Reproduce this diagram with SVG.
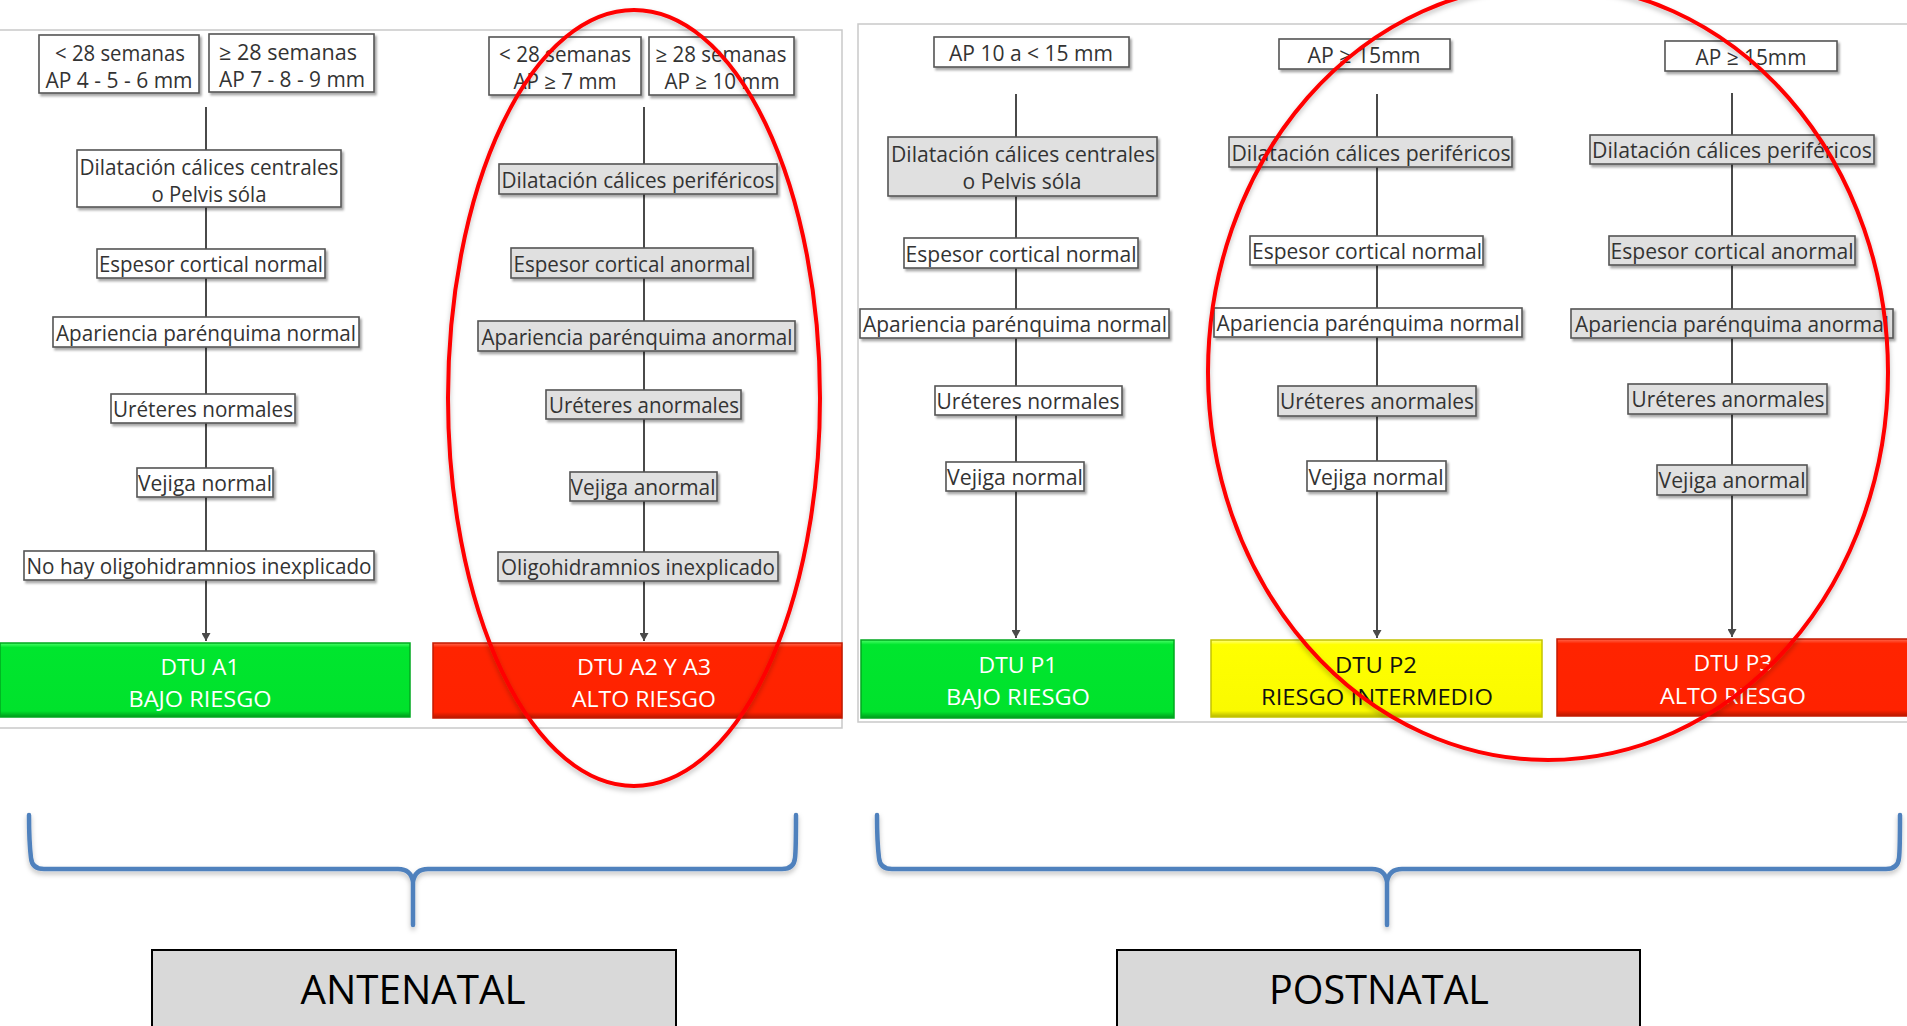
<svg xmlns="http://www.w3.org/2000/svg" width="1907" height="1026" viewBox="0 0 1907 1026">
  <defs>
    <style>
      .frame { fill: none; stroke: #c9c9c9; stroke-width: 1.5; }
      .box { fill: #ffffff; stroke: #555555; stroke-width: 1.6; filter: url(#shadow); }
      .box.grey { fill: #e0e0e0; }
      .t { font-family: "Open Sans", "Liberation Sans", sans-serif; font-size: 22px; fill: #333333; text-anchor: middle; }
      .h { font-size: 21px; }
      .res { font-family: "Open Sans", "Liberation Sans", sans-serif; font-size: 21px; fill: #ffffff; text-anchor: middle; }
      .res.dark { fill: #111111; }
      .link { stroke: #4a4a4a; stroke-width: 2; fill: none; }
      .ring { fill: none; stroke: #ff0000; stroke-width: 4; filter: url(#softshadow); }
      .brace { fill: none; stroke: #4f81bd; stroke-width: 4.5; stroke-linejoin: round; stroke-linecap: round; filter: url(#softshadow); }
      .label { fill: #d9d9d9; stroke: #000000; stroke-width: 2; }
      .lt { font-family: "Open Sans", "Liberation Sans", sans-serif; font-size: 40px; fill: #000000; text-anchor: middle; }
    </style>
    <filter id="shadow" x="-10%" y="-30%" width="120%" height="170%">
      <feDropShadow dx="2" dy="2.5" stdDeviation="1.2" flood-color="#000000" flood-opacity="0.35"/>
    </filter>
    <filter id="softshadow" x="-10%" y="-10%" width="120%" height="130%">
      <feDropShadow dx="0" dy="3" stdDeviation="2.5" flood-color="#000000" flood-opacity="0.25"/>
    </filter>
    <marker id="arrow" viewBox="0 0 8 9" refX="8" refY="4.5" markerWidth="8" markerHeight="9" markerUnits="userSpaceOnUse" orient="auto">
      <path d="M0,0 L8,4.5 L0,9 Z" fill="#4a4a4a"/>
    </marker>
    <linearGradient id="gGreen" x1="0" y1="0" x2="0" y2="1">
      <stop offset="0" stop-color="#4dff6a"/>
      <stop offset="0.06" stop-color="#00e62e"/>
      <stop offset="0.92" stop-color="#00e22c"/>
      <stop offset="1" stop-color="#009a1c"/>
    </linearGradient>
    <linearGradient id="gRed" x1="0" y1="0" x2="0" y2="1">
      <stop offset="0" stop-color="#ff6a50"/>
      <stop offset="0.06" stop-color="#ff2400"/>
      <stop offset="0.92" stop-color="#ff2200"/>
      <stop offset="1" stop-color="#b81800"/>
    </linearGradient>
    <linearGradient id="gYellow" x1="0" y1="0" x2="0" y2="1">
      <stop offset="0" stop-color="#ffff80"/>
      <stop offset="0.06" stop-color="#ffff00"/>
      <stop offset="0.92" stop-color="#fafa00"/>
      <stop offset="1" stop-color="#b5b500"/>
    </linearGradient>
  </defs>

  <rect width="1907" height="1026" fill="#ffffff"/>

  <!-- panel frames -->
  <path class="frame" d="M0,30 H842 V728 H0"/>
  <path class="frame" d="M1907,24 H858 V722 H1907"/>

  <!-- vertical flow lines -->
  <g id="connectors">
    <line class="link" x1="206" y1="107" x2="206" y2="641" marker-end="url(#arrow)"/>
    <line class="link" x1="644" y1="107" x2="644" y2="641" marker-end="url(#arrow)"/>
    <line class="link" x1="1016" y1="94" x2="1016" y2="638" marker-end="url(#arrow)"/>
    <line class="link" x1="1377" y1="94" x2="1377" y2="638" marker-end="url(#arrow)"/>
    <line class="link" x1="1732" y1="93" x2="1732" y2="637" marker-end="url(#arrow)"/>
  </g>

  <!-- ===== Antenatal, low risk column ===== -->
  <g id="a1-lt28">
    <rect class="box" x="39" y="35" width="160" height="58"/>
    <text class="t h" x="120" y="61" textLength="130" lengthAdjust="spacingAndGlyphs">&lt; 28 semanas</text>
    <text class="t h" x="119" y="88" textLength="147" lengthAdjust="spacingAndGlyphs">AP 4 - 5 - 6 mm</text>
  </g>
  <g id="a1-ge28">
    <rect class="box" x="209" y="34" width="165" height="58"/>
    <text class="t h" x="288" y="60" textLength="138" lengthAdjust="spacingAndGlyphs">≥ 28 semanas</text>
    <text class="t h" x="292" y="87" textLength="146" lengthAdjust="spacingAndGlyphs">AP 7 - 8 - 9 mm</text>
  </g>
  <g id="a1-calices">
    <rect class="box" x="77" y="150" width="264" height="57"/>
    <text class="t" x="209" y="175" textLength="259" lengthAdjust="spacingAndGlyphs">Dilatación cálices centrales</text>
    <text class="t" x="209" y="202" textLength="115" lengthAdjust="spacingAndGlyphs">o Pelvis sóla</text>
  </g>
  <g id="a1-cortical">
    <rect class="box" x="97" y="249" width="228" height="29"/>
    <text class="t" x="211" y="272" textLength="224" lengthAdjust="spacingAndGlyphs">Espesor cortical normal</text>
  </g>
  <g id="a1-parenquima">
    <rect class="box" x="53" y="317" width="306" height="30"/>
    <text class="t" x="206" y="341" textLength="300" lengthAdjust="spacingAndGlyphs">Apariencia parénquima normal</text>
  </g>
  <g id="a1-ureteres">
    <rect class="box" x="111" y="394" width="184" height="29"/>
    <text class="t" x="203" y="417" textLength="180" lengthAdjust="spacingAndGlyphs">Uréteres normales</text>
  </g>
  <g id="a1-vejiga">
    <rect class="box" x="137" y="468" width="136" height="29"/>
    <text class="t" x="205" y="491" textLength="134" lengthAdjust="spacingAndGlyphs">Vejiga normal</text>
  </g>
  <g id="a1-oligo">
    <rect class="box" x="24" y="551" width="350" height="29"/>
    <text class="t" x="199" y="574" textLength="345" lengthAdjust="spacingAndGlyphs">No hay oligohidramnios inexplicado</text>
  </g>
  <g id="a1-result">
    <rect x="0" y="643" width="410" height="74" fill="url(#gGreen)" stroke="#00a81f" stroke-width="1.5"/>
    <text class="res" x="200" y="675" textLength="79" lengthAdjust="spacingAndGlyphs">DTU A1</text>
    <text class="res" x="200" y="707" textLength="143" lengthAdjust="spacingAndGlyphs">BAJO RIESGO</text>
  </g>

  <!-- ===== Antenatal, high risk column ===== -->
  <g id="a2-lt28">
    <rect class="box" x="489" y="37" width="152" height="58"/>
    <text class="t h" x="565" y="62" textLength="132" lengthAdjust="spacingAndGlyphs">&lt; 28 semanas</text>
    <text class="t h" x="565" y="89" textLength="103" lengthAdjust="spacingAndGlyphs">AP ≥ 7 mm</text>
  </g>
  <g id="a2-ge28">
    <rect class="box" x="649" y="37" width="145" height="58"/>
    <text class="t h" x="721" y="62" textLength="131" lengthAdjust="spacingAndGlyphs">≥ 28 semanas</text>
    <text class="t h" x="722" y="89" textLength="115" lengthAdjust="spacingAndGlyphs">AP ≥ 10 mm</text>
  </g>
  <g id="a2-calices">
    <rect class="box grey" x="499" y="164" width="278" height="30"/>
    <text class="t" x="638" y="188" textLength="273" lengthAdjust="spacingAndGlyphs">Dilatación cálices periféricos</text>
  </g>
  <g id="a2-cortical">
    <rect class="box grey" x="511" y="248" width="242" height="30"/>
    <text class="t" x="632" y="272" textLength="237" lengthAdjust="spacingAndGlyphs">Espesor cortical anormal</text>
  </g>
  <g id="a2-parenquima">
    <rect class="box grey" x="478" y="321" width="317" height="30"/>
    <text class="t" x="637" y="345" textLength="311" lengthAdjust="spacingAndGlyphs">Apariencia parénquima anormal</text>
  </g>
  <g id="a2-ureteres">
    <rect class="box grey" x="546" y="390" width="195" height="29"/>
    <text class="t" x="644" y="413" textLength="190" lengthAdjust="spacingAndGlyphs">Uréteres anormales</text>
  </g>
  <g id="a2-vejiga">
    <rect class="box grey" x="570" y="472" width="147" height="29"/>
    <text class="t" x="643" y="495" textLength="145" lengthAdjust="spacingAndGlyphs">Vejiga anormal</text>
  </g>
  <g id="a2-oligo">
    <rect class="box grey" x="498" y="552" width="280" height="29"/>
    <text class="t" x="638" y="575" textLength="274" lengthAdjust="spacingAndGlyphs">Oligohidramnios inexplicado</text>
  </g>
  <g id="a2-result">
    <rect x="433" y="643" width="409" height="75" fill="url(#gRed)" stroke="#c41a00" stroke-width="1.5"/>
    <text class="res" x="644" y="675" textLength="134" lengthAdjust="spacingAndGlyphs">DTU A2 Y A3</text>
    <text class="res" x="644" y="707" textLength="144" lengthAdjust="spacingAndGlyphs">ALTO RIESGO</text>
  </g>

  <!-- ===== Postnatal, P1 column ===== -->
  <g id="p1-ap">
    <rect class="box" x="934" y="37" width="195" height="30"/>
    <text class="t h" x="1031" y="61" textLength="164" lengthAdjust="spacingAndGlyphs">AP 10 a &lt; 15 mm</text>
  </g>
  <g id="p1-calices">
    <rect class="box grey" x="888" y="137" width="269" height="59"/>
    <text class="t" x="1023" y="162" textLength="264" lengthAdjust="spacingAndGlyphs">Dilatación cálices centrales</text>
    <text class="t" x="1022" y="189" textLength="119" lengthAdjust="spacingAndGlyphs">o Pelvis sóla</text>
  </g>
  <g id="p1-cortical">
    <rect class="box" x="904" y="238" width="234" height="30"/>
    <text class="t" x="1021" y="262" textLength="231" lengthAdjust="spacingAndGlyphs">Espesor cortical normal</text>
  </g>
  <g id="p1-parenquima">
    <rect class="box" x="860" y="309" width="309" height="29"/>
    <text class="t" x="1015" y="332" textLength="304" lengthAdjust="spacingAndGlyphs">Apariencia parénquima normal</text>
  </g>
  <g id="p1-ureteres">
    <rect class="box" x="935" y="386" width="187" height="29"/>
    <text class="t" x="1028" y="409" textLength="183" lengthAdjust="spacingAndGlyphs">Uréteres normales</text>
  </g>
  <g id="p1-vejiga">
    <rect class="box" x="946" y="462" width="138" height="29"/>
    <text class="t" x="1015" y="485" textLength="136" lengthAdjust="spacingAndGlyphs">Vejiga normal</text>
  </g>
  <g id="p1-result">
    <rect x="861" y="640" width="313" height="78" fill="url(#gGreen)" stroke="#00a81f" stroke-width="1.5"/>
    <text class="res" x="1018" y="673" textLength="79" lengthAdjust="spacingAndGlyphs">DTU P1</text>
    <text class="res" x="1018" y="705" textLength="144" lengthAdjust="spacingAndGlyphs">BAJO RIESGO</text>
  </g>

  <!-- ===== Postnatal, P2 column ===== -->
  <g id="p2-ap">
    <rect class="box" x="1279" y="39" width="171" height="30"/>
    <text class="t h" x="1364" y="63" textLength="113" lengthAdjust="spacingAndGlyphs">AP ≥ 15mm</text>
  </g>
  <g id="p2-calices">
    <rect class="box grey" x="1229" y="137" width="283" height="30"/>
    <text class="t" x="1371" y="161" textLength="279" lengthAdjust="spacingAndGlyphs">Dilatación cálices periféricos</text>
  </g>
  <g id="p2-cortical">
    <rect class="box" x="1250" y="236" width="233" height="29"/>
    <text class="t" x="1367" y="259" textLength="230" lengthAdjust="spacingAndGlyphs">Espesor cortical normal</text>
  </g>
  <g id="p2-parenquima">
    <rect class="box" x="1214" y="308" width="308" height="29"/>
    <text class="t" x="1368" y="331" textLength="303" lengthAdjust="spacingAndGlyphs">Apariencia parénquima normal</text>
  </g>
  <g id="p2-ureteres">
    <rect class="box grey" x="1278" y="386" width="198" height="30"/>
    <text class="t" x="1377" y="409" textLength="194" lengthAdjust="spacingAndGlyphs">Uréteres anormales</text>
  </g>
  <g id="p2-vejiga">
    <rect class="box" x="1307" y="461" width="139" height="30"/>
    <text class="t" x="1376" y="485" textLength="135" lengthAdjust="spacingAndGlyphs">Vejiga normal</text>
  </g>
  <g id="p2-result">
    <rect x="1211" y="640" width="331" height="77" fill="url(#gYellow)" stroke="#c4c400" stroke-width="1.5"/>
    <text class="res dark" x="1376" y="673" textLength="82" lengthAdjust="spacingAndGlyphs">DTU P2</text>
    <text class="res dark" x="1377" y="705" textLength="232" lengthAdjust="spacingAndGlyphs">RIESGO INTERMEDIO</text>
  </g>

  <!-- ===== Postnatal, P3 column ===== -->
  <g id="p3-ap">
    <rect class="box" x="1665" y="41" width="172" height="30"/>
    <text class="t h" x="1751" y="65" textLength="111" lengthAdjust="spacingAndGlyphs">AP ≥ 15mm</text>
  </g>
  <g id="p3-calices">
    <rect class="box grey" x="1590" y="135" width="284" height="29"/>
    <text class="t" x="1732" y="158" textLength="280" lengthAdjust="spacingAndGlyphs">Dilatación cálices periféricos</text>
  </g>
  <g id="p3-cortical">
    <rect class="box grey" x="1609" y="236" width="246" height="29"/>
    <text class="t" x="1732" y="259" textLength="243" lengthAdjust="spacingAndGlyphs">Espesor cortical anormal</text>
  </g>
  <g id="p3-parenquima">
    <rect class="box grey" x="1571" y="309" width="322" height="29"/>
    <text class="t" x="1732" y="332" textLength="314" lengthAdjust="spacingAndGlyphs">Apariencia parénquima anormal</text>
  </g>
  <g id="p3-ureteres">
    <rect class="box grey" x="1628" y="384" width="199" height="30"/>
    <text class="t" x="1728" y="407" textLength="193" lengthAdjust="spacingAndGlyphs">Uréteres anormales</text>
  </g>
  <g id="p3-vejiga">
    <rect class="box grey" x="1657" y="465" width="150" height="30"/>
    <text class="t" x="1732" y="488" textLength="147" lengthAdjust="spacingAndGlyphs">Vejiga anormal</text>
  </g>
  <g id="p3-result">
    <rect x="1557" y="639" width="352" height="77" fill="url(#gRed)" stroke="#c41a00" stroke-width="1.5"/>
    <text class="res" x="1733" y="671" textLength="79" lengthAdjust="spacingAndGlyphs">DTU P3</text>
    <text class="res" x="1733" y="704" textLength="146" lengthAdjust="spacingAndGlyphs">ALTO RIESGO</text>
  </g>

  <!-- highlight rings -->
  <ellipse class="ring" cx="634" cy="398" rx="186" ry="388"/>
  <ellipse class="ring" cx="1548" cy="372" rx="340" ry="388"/>

  <!-- grouping braces -->
  <g id="brace-antenatal">
    <path class="brace" d="M29,815 C29,835 30,850 31,858 Q32,869 44,869 L398,869 Q411,869 413,882 L413,925 M413,882 Q415,869 428,869 L782,869 Q794,869 795,858 C796,850 796,835 796,815"/>
  </g>
  <g id="brace-postnatal">
    <path class="brace" d="M877,815 C877,835 878,850 879,858 Q880,869 892,869 L1372,869 Q1385,869 1387,882 L1387,925 M1387,882 Q1389,869 1402,869 L1886,869 Q1898,869 1899,858 C1900,850 1900,835 1900,815"/>
  </g>

  <!-- phase labels -->
  <g id="label-antenatal">
    <rect class="label" x="152" y="950" width="524" height="90"/>
    <text class="lt" x="413" y="1004" textLength="225" lengthAdjust="spacingAndGlyphs">ANTENATAL</text>
  </g>
  <g id="label-postnatal">
    <rect class="label" x="1117" y="950" width="523" height="90"/>
    <text class="lt" x="1379" y="1004" textLength="220" lengthAdjust="spacingAndGlyphs">POSTNATAL</text>
  </g>
</svg>
